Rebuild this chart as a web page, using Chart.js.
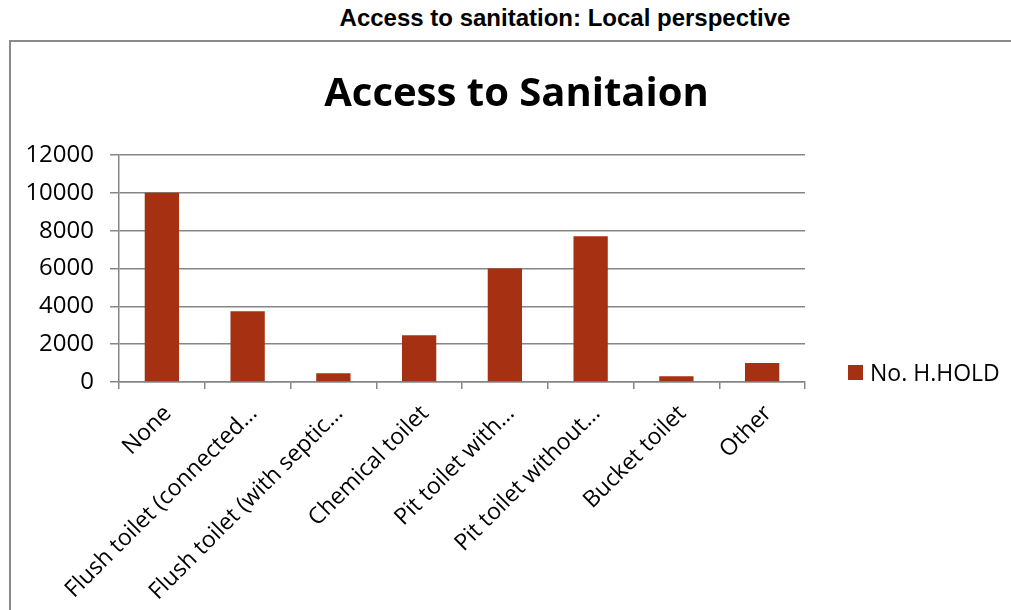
<!DOCTYPE html>
<html>
<head>
<meta charset="utf-8">
<script src="https://cdn.jsdelivr.net/npm/chart.js@4"></script>
<style>
    html, body { margin: 0; padding: 0; background: #fff; }
    body { width: 1011px; height: 610px; position: relative; overflow: hidden; }
    #page-title {
        position: absolute; left: 0; top: 4px; width: 1130px; text-align: center;
        font-family: "Liberation Sans Narrow", "Liberation Sans", Arial, sans-serif;
        font-weight: bold; font-size: 24px; color: #000;
    }
    #frame {
        position: absolute; left: 9px; top: 40px; width: 1100px; height: 700px;
        border: 2px solid #8a8a8a; box-sizing: border-box;
    }
    #chart-wrap { position: absolute; left: 0; top: 0; width: 1011px; height: 610px; }
    #legend {
        position: absolute; left: 848px; top: 356px;
        font-family: "Open Sans", sans-serif; font-size: 23px; color: #000;
        display: flex; align-items: center;
    }
    #legend span.box { display: inline-block; width: 15px; height: 15px; margin-right: 7px; }
</style>
</head>
<body>
<div id="page-title">Access to sanitation: Local perspective</div>
<div id="frame"></div>
<div id="chart-wrap"><canvas id="sanitation-chart" width="1011" height="610"></canvas></div>
<div id="legend"><span class="box"></span><span class="label"></span></div>

<script>
// Chart data
const categories = [
    'None',
    'Flush toilet (connected…',
    'Flush toilet (with septic…',
    'Chemical toilet',
    'Pit toilet with…',
    'Pit toilet without…',
    'Bucket toilet',
    'Other'
];
const householdCounts = [10000, 3740, 460, 2470, 6000, 7700, 300, 1000];
const seriesName = 'No. H.HOLD';
const chartTitle = 'Access to Sanitaion';

const barColor = 'rgb(166, 48, 18)';
const gridColor = 'rgb(134, 134, 134)';
const labelFont = { family: '"Open Sans", sans-serif', size: 23 };

// Legend (drawn in HTML, to the right of the plot)
document.querySelector('#legend .box').style.background = barColor;
document.querySelector('#legend .label').textContent = seriesName;

function initSanitationChart() {
    const ctx = document.getElementById('sanitation-chart');
    if (!ctx) return null;

    return new Chart(ctx.getContext('2d'), {
        type: 'bar',
        data: {
            labels: categories,
            datasets: [{
                label: seriesName,
                data: householdCounts,
                backgroundColor: barColor,
                borderWidth: 0,
                categoryPercentage: 1.0,
                barPercentage: 0.4
            }]
        },
        options: {
            responsive: false,
            animation: false,
            layout: {
                padding: { left: 22, right: 0, top: 0, bottom: 0 }
            },
            plugins: {
                legend: { display: false },
                tooltip: { enabled: false },
                title: {
                    display: true,
                    text: chartTitle,
                    color: '#000',
                    font: { family: '"Open Sans", sans-serif', size: 40, weight: 'bold', lineHeight: 1.2 },
                    padding: { top: 71, bottom: 36 }
                }
            },
            scales: {
                x: {
                    offset: true,
                    grid: {
                        offset: true,
                        drawOnChartArea: false,
                        drawTicks: true,
                        tickLength: 7,
                        color: gridColor,
                        lineWidth: 1.5
                    },
                    border: { color: gridColor, width: 1.5 },
                    ticks: {
                        color: '#000',
                        font: labelFont,
                        autoSkip: false,
                        minRotation: 45,
                        maxRotation: 45,
                        padding: 11,
                        labelOffset: 6
                    },
                    afterFit: function(scale) {
                        scale.height = 228;
                    }
                },
                y: {
                    min: 0,
                    max: 12000,
                    grid: {
                        color: gridColor,
                        lineWidth: 1.5,
                        drawTicks: true,
                        tickLength: 9
                    },
                    border: { color: gridColor, width: 1.5 },
                    ticks: {
                        stepSize: 2000,
                        color: '#000',
                        font: { family: '"Open Sans", sans-serif', size: 24 },
                        padding: 16,
                        callback: function(value) {
                            return String(value);
                        }
                    },
                    afterFit: function(scale) {
                        scale.width = 97;
                    }
                },
                // empty space on the right where the legend sits
                legendSpace: {
                    type: 'linear',
                    position: 'right',
                    display: true,
                    grid: { display: false },
                    border: { display: false },
                    ticks: { display: false },
                    afterFit: function(scale) {
                        scale.width = 206;
                    }
                }
            }
        }
    });
}

const sanitationChart = initSanitationChart();
</script>
</body>
</html>
